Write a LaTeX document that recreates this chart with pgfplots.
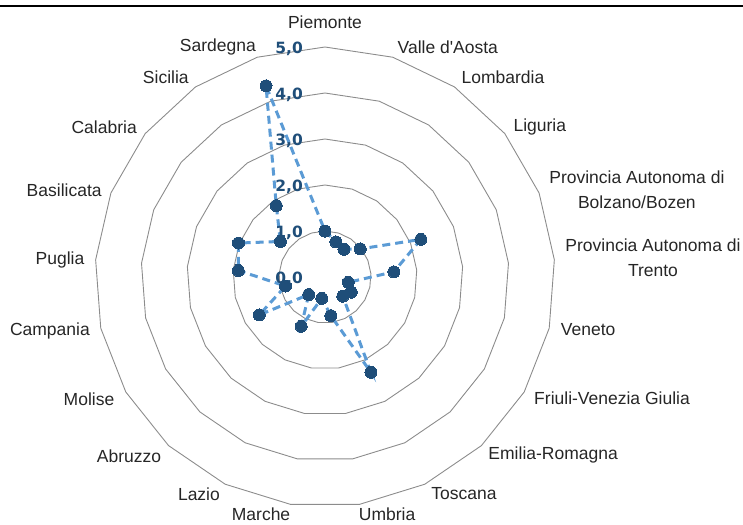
\documentclass[border=0pt]{standalone}
\usepackage{pgfplots}
\pgfplotsset{compat=1.18}
\usepackage{pgfplotstable}
\usepackage{fontspec}
\setmainfont{Liberation Sans}
\newfontfamily\tickfont{DejaVu Sans}

\definecolor{lineblue}{HTML}{5B9BD5}
\definecolor{dotblue}{HTML}{1F4E79}
\definecolor{ringgray}{HTML}{8C8C8C}
\definecolor{labgray}{HTML}{262626}

% angle (deg, Piemonte on top, clockwise) and value
\pgfplotstableread{
ang     val
90      1.00
72.857  0.80
55.714  0.73
38.571  0.98
21.429  2.24
4.286   1.50
-12.857 0.52
-30     0.66
-47.143 0.57
-64.286 2.30
-81.429 0.85
-98.571 0.47
-115.714 1.19
-132.857 0.52
-150    1.65
-167.143 0.88
-184.286 1.89
-201.429 2.02
-218.571 1.24
-235.714 1.88
-252.857 4.35
-270    1.00
}\regioni

\begin{document}
\begin{tikzpicture}[
    lab/.style={font=\fontsize{17.5}{25}\selectfont, text=labgray, align=center, inner sep=0pt},
    rlab/.style={font=\tickfont\bfseries\fontsize{15.5}{18}\selectfont, text=dotblue, anchor=east, inner sep=0pt, xshift=-22pt},
]
\begin{axis}[
    x=46pt, y=46pt,
    xmin=-7.065, xmax=9.087,
    ymin=-5.391, ymax=6.022,
    hide axis,
    clip=false,
]
\coordinate (bl) at (axis cs:-7.065,-5.391);
\coordinate (tr) at (axis cs:9.087,6.022);
% top rule
\draw[line width=2.5pt, black] (axis cs:-7.065,5.89) -- (axis cs:9.087,5.89);

% polygon rings
\pgfplotsinvokeforeach{1,2,3,4,5}{
  \addplot[ringgray, line width=0.9pt, data cs=polar, no markers] table[x=ang, y expr=#1] {\regioni};
}

% series
\addplot[lineblue, line width=3pt, dash pattern=on 8pt off 5pt, data cs=polar,
  mark=*, mark size=6pt, mark options={solid, fill=dotblue, draw=dotblue, line width=0pt}]
  table[x=ang, y=val] {\regioni};

% radial scale labels
\node[rlab] at (axis cs:0,-0.03) {0,0};
\node[rlab] at (axis cs:0,0.97) {1,0};
\node[rlab] at (axis cs:0,1.97) {2,0};
\node[rlab] at (axis cs:0,2.97) {3,0};
\node[rlab] at (axis cs:0,3.97) {4,0};
\node[rlab] at (axis cs:0,4.97) {5,0};

% category labels
\node[lab] at (axis cs:0,5.54) {Piemonte};
\node[lab] at (axis cs:2.67,5.00) {Valle d\textquotesingle Aosta};
\node[lab] at (axis cs:3.87,4.35) {Lombardia};
\node[lab] at (axis cs:4.67,3.26) {Liguria};
\node[lab] at (axis cs:6.78,1.89) {Provincia Autonoma di\\Bolzano/Bozen};
\node[lab] at (axis cs:7.13,0.41) {Provincia Autonoma di\\Trento};
\node[lab] at (axis cs:5.72,-1.15) {Veneto};
\node[lab] at (axis cs:6.24,-2.63) {Friuli-Venezia Giulia};
\node[lab] at (axis cs:4.96,-3.87) {Emilia-Romagna};
\node[lab] at (axis cs:3.02,-4.70) {Toscana};
\node[lab] at (axis cs:1.35,-5.16) {Umbria};
\node[lab] at (axis cs:-1.39,-5.16) {Marche};
\node[lab] at (axis cs:-2.74,-4.72) {Lazio};
\node[lab] at (axis cs:-4.26,-3.89) {Abruzzo};
\node[lab] at (axis cs:-5.13,-2.65) {Molise};
\node[lab] at (axis cs:-5.98,-1.17) {Campania};
\node[lab] at (axis cs:-5.76,0.37) {Puglia};
\node[lab] at (axis cs:-5.67,1.89) {Basilicata};
\node[lab] at (axis cs:-4.80,3.26) {Calabria};
\node[lab] at (axis cs:-3.46,4.35) {Sicilia};
\node[lab] at (axis cs:-2.33,5.00) {Sardegna};
\end{axis}
\pgfresetboundingbox
\useasboundingbox (bl) rectangle (tr);
\end{tikzpicture}
\end{document}
